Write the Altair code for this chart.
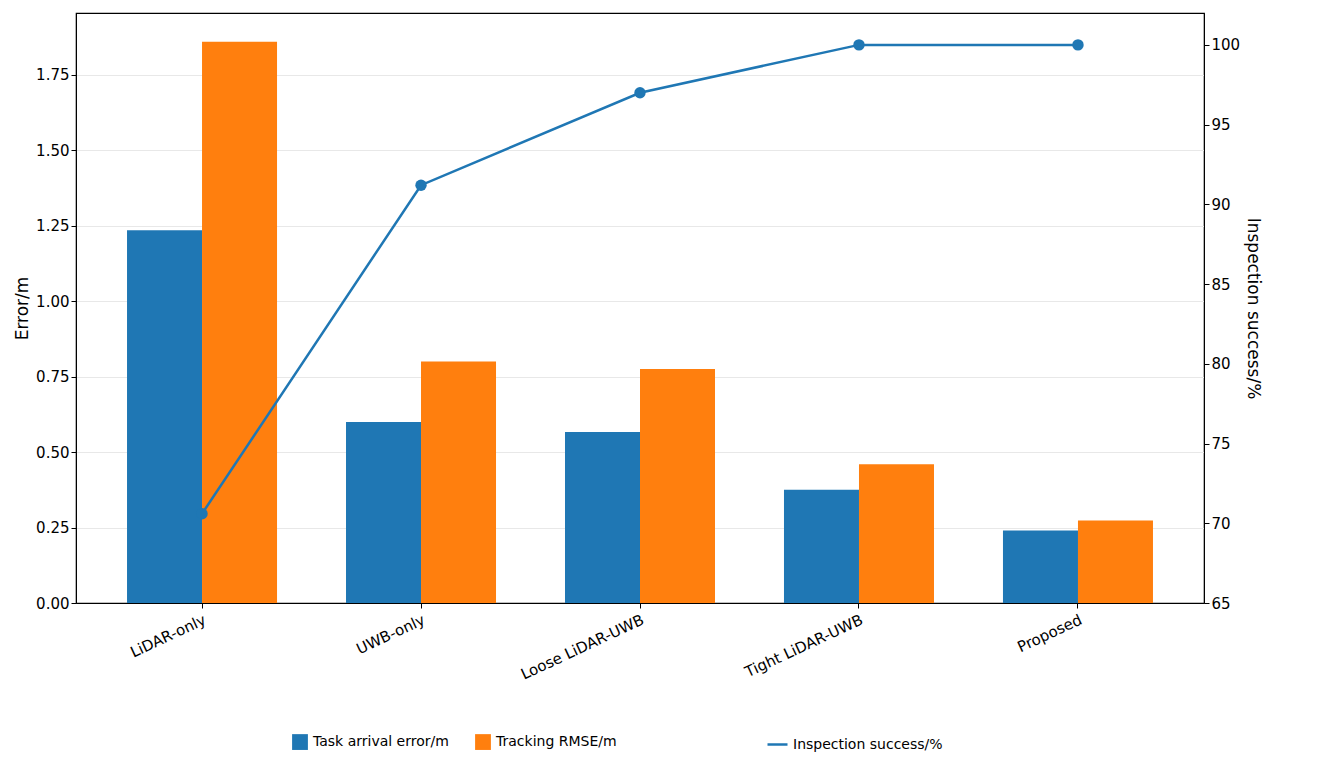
import altair as alt
import pandas as pd

methods = ['LiDAR-only', 'UWB-only', 'Loose LiDAR-UWB', 'Tight LiDAR-UWB', 'Proposed']
arrival_error = [1.235, 0.60, 0.567, 0.375, 0.24]
tracking_rmse = [1.86, 0.80, 0.775, 0.46, 0.273]
success = [70.6, 91.2, 97.0, 100.0, 100.0]

bars = pd.DataFrame({
    'method': methods * 2,
    'metric': ['Task arrival error/m'] * 5 + ['Tracking RMSE/m'] * 5,
    'value': arrival_error + tracking_rmse,
})
line = pd.DataFrame({'method': methods, 'success': success,
                     'series': ['Inspection success/%'] * 5})

FONT = 'DejaVu Sans'
xscale = alt.Scale(domain=methods, paddingInner=0.315, paddingOuter=0.233)
xaxis = alt.Axis(title=None, labelAngle=-25, labelAlign='right', labelBaseline='top',
                 labelFontSize=15, labelColor='black', domainColor='black',
                 tickColor='black', labelPadding=4)

bar_layer = alt.Chart(bars).mark_bar().encode(
    x=alt.X('method:N', scale=xscale, axis=xaxis, sort=methods),
    xOffset=alt.XOffset('metric:N', sort=['Task arrival error/m', 'Tracking RMSE/m']),
    y=alt.Y('value:Q', title='Error/m', scale=alt.Scale(domain=[0, 1.955], nice=False),
            axis=alt.Axis(values=[0, 0.25, 0.5, 0.75, 1.0, 1.25, 1.5, 1.75], format='.2f',
                          labelFontSize=15, titleFontSize=17, titleFontWeight='normal',
                          labelColor='black', titleColor='black', domainColor='black',
                          tickColor='black', gridColor='#e8e8e8')),
    color=alt.Color('metric:N', sort=['Task arrival error/m', 'Tracking RMSE/m'],
                    scale=alt.Scale(range=['#1f77b4', '#ff7f0e']),
                    legend=alt.Legend(title=None, orient='none', direction='horizontal',
                                      legendX=215, legendY=720, symbolType='square',
                                      symbolSize=250, labelFontSize=14, columnPadding=25)),
)

yright = alt.Y('success:Q', title='Inspection success/%',
               scale=alt.Scale(domain=[65, 102], nice=False),
               axis=alt.Axis(orient='right', values=list(range(65, 101, 5)), grid=False,
                             labelFontSize=15, titleFontSize=17, titleFontWeight='normal',
                             labelColor='black', titleColor='black', domainColor='black',
                             tickColor='black'))
line_color = alt.Color('series:N', scale=alt.Scale(range=['#1f77b4']),
                       legend=alt.Legend(title=None, orient='none', legendX=690, legendY=720,
                                         symbolType='stroke', symbolStrokeWidth=2.5,
                                         labelFontSize=14, symbolSize=400))
line_layer = alt.Chart(line).mark_line(strokeWidth=2.5, point=alt.OverlayMarkDef(
    filled=True, size=130, color='#1f77b4')).encode(
    x=alt.X('method:N', scale=xscale, sort=methods),
    y=yright,
    color=line_color,
)

chart = alt.layer(bar_layer, line_layer).resolve_scale(
    y='independent', color='independent'
).properties(width=1128, height=590).configure(font=FONT).configure_view(
    stroke='black', strokeWidth=1.2
)

chart.save("out.html", embed_options={"renderer": "svg", "actions": False})
